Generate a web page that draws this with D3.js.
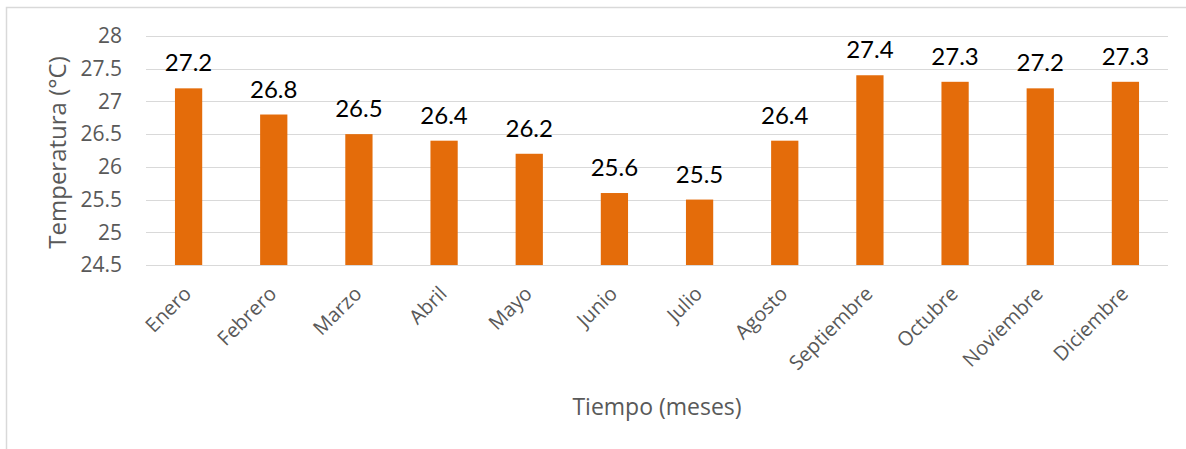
<!DOCTYPE html>
<html lang="es">
<head>
    <meta charset="UTF-8">
    <title>Temperatura mensual</title>
    <style>
        body { margin: 0; background: #fff; }
        svg { display: block; }
    </style>
</head>
<body>
    <div id="chart"></div>
    <script src="https://d3js.org/d3.v7.min.js"></script>
    <script>
        const months = ["Enero", "Febrero", "Marzo", "Abril", "Mayo", "Junio", "Julio",
            "Agosto", "Septiembre", "Octubre", "Noviembre", "Diciembre"];
        const temps = [27.2, 26.8, 26.5, 26.4, 26.2, 25.6, 25.5, 26.4, 27.4, 27.3, 27.2, 27.3];
        const yTicks = [24.5, 25, 25.5, 26, 26.5, 27, 27.5, 28];

        const W = 1186, H = 449;
        const plot = { left: 146, right: 1168, top: 36, bottom: 265 };

        const svg = d3.select("#chart").append("svg")
            .attr("width", W)
            .attr("height", H);

        // outer frame, cut off at right and bottom
        svg.append("rect")
            .attr("x", 6.5).attr("y", 7.5)
            .attr("width", W).attr("height", H)
            .attr("fill", "none")
            .attr("stroke", "#d9d9d9")
            .attr("stroke-width", 1.5);

        const x = d3.scaleBand()
            .domain(months)
            .range([plot.left, plot.right])
            .paddingInner(0.68)
            .paddingOuter(0.34);

        const y = d3.scaleLinear()
            .domain([24.5, 28])
            .range([plot.bottom, plot.top]);

        // gridlines
        svg.append("g")
            .selectAll("line")
            .data(yTicks)
            .join("line")
            .attr("x1", plot.left).attr("x2", plot.right)
            .attr("y1", d => Math.round(y(d)) + 0.5)
            .attr("y2", d => Math.round(y(d)) + 0.5)
            .attr("stroke", "#d9d9d9")
            .attr("stroke-width", 1.2);

        // y axis labels
        const yAxis = svg.append("g")
            .attr("transform", `translate(${plot.left}, 0)`)
            .call(d3.axisLeft(y).tickValues(yTicks).tickSize(0).tickPadding(24).tickFormat(d3.format("")));
        yAxis.select(".domain").remove();
        yAxis.selectAll("text")
            .attr("fill", "#595959")
            .style("font-family", "'Open Sans', sans-serif")
            .style("font-size", "21px");

        // bars
        svg.append("g")
            .selectAll("rect")
            .data(temps)
            .join("rect")
            .attr("x", (d, i) => x(months[i]))
            .attr("y", d => y(d))
            .attr("width", x.bandwidth())
            .attr("height", d => y(24.5) - y(d))
            .attr("fill", "#e46c0a");

        // value labels
        svg.append("g")
            .selectAll("text")
            .data(temps)
            .join("text")
            .attr("x", (d, i) => x(months[i]) + x.bandwidth() / 2)
            .attr("y", d => y(d) - 17)
            .attr("text-anchor", "middle")
            .attr("fill", "#000")
            .style("font-family", "Lato, sans-serif")
            .style("font-size", "24px")
            .text(d => d3.format(".1f")(d));

        // x axis labels
        const xAxis = svg.append("g")
            .attr("transform", `translate(0, ${plot.bottom})`)
            .call(d3.axisBottom(x).tickSize(0).tickPadding(0));
        xAxis.select(".domain").remove();
        xAxis.selectAll("text")
            .attr("fill", "#595959")
            .style("font-family", "'Open Sans', sans-serif")
            .style("font-size", "20px")
            .attr("text-anchor", "end")
            .attr("dy", 0)
            .attr("transform", "translate(4, 30) rotate(-45)");

        // axis titles
        svg.append("text")
            .attr("transform", `translate(66, ${(plot.top + plot.bottom) / 2 + 2}) rotate(-90)`)
            .attr("text-anchor", "middle")
            .attr("fill", "#595959")
            .style("font-family", "'Open Sans', sans-serif")
            .style("font-size", "24px")
            .text("Temperatura (°C)");

        svg.append("text")
            .attr("x", 657)
            .attr("y", 415)
            .attr("text-anchor", "middle")
            .attr("fill", "#595959")
            .style("font-family", "'Open Sans', sans-serif")
            .style("font-size", "23px")
            .text("Tiempo (meses)");
    </script>
</body>
</html>
